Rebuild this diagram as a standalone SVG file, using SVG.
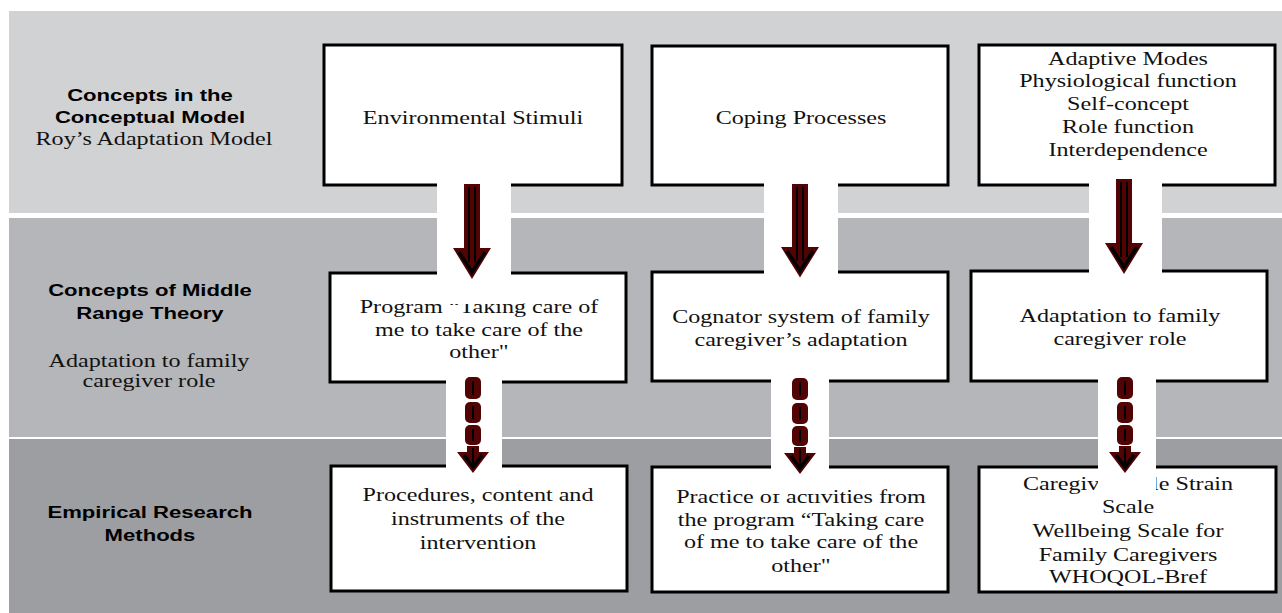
<svg xmlns="http://www.w3.org/2000/svg" width="1282" height="613" viewBox="0 0 1282 613">
<style>
.box{fill:#fff;stroke:#000;stroke-width:3}
.t{font-family:"Liberation Serif","Times New Roman",serif;font-size:18px;fill:#111;text-anchor:middle}
.h{font-family:"Liberation Sans",Arial,sans-serif;font-size:17px;font-weight:bold;fill:#000;text-anchor:middle}
.strip{fill:#fff}
.red{fill:#520404}
.blk{stroke:#000;fill:none;stroke-width:2}
.chev{stroke:#000;fill:none;stroke-width:3.5}
</style>
<defs>
<g id="solidArrow">
<path class="red" d="M-8,0 H8 V64 H19 L0,95 L-19,64 H-8 Z"/>
<line class="blk" x1="-3" y1="3" x2="-3" y2="78"/>
<line class="blk" x1="3" y1="3" x2="3" y2="78"/>
<polyline class="chev" points="-13,68 0,88 13,68"/>
</g>
<g id="dashArrow">
<rect class="red" x="-8" y="0" width="16" height="22" rx="5"/>
<rect class="red" x="-8" y="25" width="16" height="21" rx="5"/>
<rect class="red" x="-8" y="48" width="16" height="20" rx="5"/>
<line class="blk" x1="0" y1="4" x2="0" y2="18" stroke-width="3"/>
<line class="blk" x1="0" y1="29" x2="0" y2="42" stroke-width="3"/>
<line class="blk" x1="0" y1="52" x2="0" y2="64" stroke-width="3"/>
<path class="red" d="M-6,69 H6 V75 H16 L0,96 L-16,75 H-6 Z"/>
<line class="blk" x1="0" y1="71" x2="0" y2="88" stroke-width="2.5"/>
<polyline class="chev" points="-9,78 0,90 9,78" stroke-width="3"/>
</g>
</defs>

<g id="bands">
<rect x="9" y="11" width="1273" height="202" fill="#d1d2d4"/>
<rect x="9" y="218" width="1273" height="219" fill="#b4b6b9"/>
<rect x="9" y="439" width="1273" height="174" fill="#9c9ea2"/>
</g>

<g id="label-conceptual">
<text class="h" transform="translate(150,0) scale(1.3,1)"><tspan x="0" y="101">Concepts in the</tspan><tspan x="0" y="123">Conceptual Model</tspan></text>
<text class="t" transform="translate(154,0) scale(1.34,1)"><tspan x="0" y="145">Roy’s Adaptation Model</tspan></text>
</g>
<g id="label-middle">
<text class="h" transform="translate(150,0) scale(1.3,1)"><tspan x="0" y="296">Concepts of Middle</tspan><tspan x="0" y="319">Range Theory</tspan></text>
<text class="t" transform="translate(149,0) scale(1.34,1)"><tspan x="0" y="367">Adaptation to family</tspan><tspan x="0" y="387">caregiver role</tspan></text>
</g>
<g id="label-empirical">
<text class="h" transform="translate(150,0) scale(1.3,1)"><tspan x="0" y="518">Empirical Research</tspan><tspan x="0" y="541">Methods</tspan></text>
</g>

<g id="n-environmental">
<rect class="box" x="324" y="45" width="298" height="140"/>
<text class="t" transform="translate(473,0) scale(1.34,1)"><tspan x="0" y="124">Environmental Stimuli</tspan></text>
</g>
<g id="n-coping">
<rect class="box" x="652" y="46" width="296" height="139"/>
<text class="t" transform="translate(801,0) scale(1.34,1)"><tspan x="0" y="124">Coping Processes</tspan></text>
</g>
<g id="n-adaptive">
<rect class="box" x="979" y="45" width="296" height="140"/>
<text class="t" transform="translate(1128,0) scale(1.34,1)"><tspan x="0" y="65">Adaptive Modes</tspan><tspan x="0" y="87">Physiological function</tspan><tspan x="0" y="110">Self-concept</tspan><tspan x="0" y="133">Role function</tspan><tspan x="0" y="156">Interdependence</tspan></text>
</g>

<g id="n-program">
<rect class="box" x="330" y="273" width="296" height="109"/>
<text class="t" transform="translate(479,0) scale(1.34,1)"><tspan x="0" y="313">Program “Taking care of</tspan><tspan x="0" y="336">me to take care of the</tspan><tspan x="0" y="358">other"</tspan></text>
</g>
<g id="n-cognator">
<rect class="box" x="652" y="272" width="296" height="109"/>
<text class="t" transform="translate(801,0) scale(1.34,1)"><tspan x="0" y="323">Cognator system of family</tspan><tspan x="0" y="346">caregiver’s adaptation</tspan></text>
</g>
<g id="n-adaptation">
<rect class="box" x="971" y="271" width="296" height="110"/>
<text class="t" transform="translate(1120,0) scale(1.34,1)"><tspan x="0" y="322">Adaptation to family</tspan><tspan x="0" y="345">caregiver role</tspan></text>
</g>

<g id="n-procedures">
<rect class="box" x="331" y="466" width="296" height="125"/>
<text class="t" transform="translate(478,0) scale(1.34,1)"><tspan x="0" y="501">Procedures, content and</tspan><tspan x="0" y="525">instruments of the</tspan><tspan x="0" y="549">intervention</tspan></text>
</g>
<g id="n-practice">
<rect class="box" x="652" y="467" width="296" height="125"/>
<text class="t" transform="translate(801,0) scale(1.34,1)"><tspan x="0" y="503">Practice of activities from</tspan><tspan x="0" y="526">the program “Taking care</tspan><tspan x="0" y="548">of me to take care of the</tspan><tspan x="0" y="572">other"</tspan></text>
</g>
<g id="n-scales">
<rect class="box" x="979" y="467" width="297" height="125"/>
<text class="t" transform="translate(1128,0) scale(1.34,1)"><tspan x="0" y="490">Caregiver Role Strain</tspan><tspan x="0" y="513">Scale</tspan><tspan x="0" y="537">Wellbeing Scale for</tspan><tspan x="0" y="561">Family Caregivers</tspan><tspan x="0" y="583">WHOQOL-Bref</tspan></text>
</g>

<g id="connectors">
<rect class="strip" x="437" y="182" width="74" height="122"/>
<rect class="strip" x="764" y="182" width="74" height="104"/>
<rect class="strip" x="1089" y="180" width="73" height="106"/>
<rect class="strip" x="446" y="377" width="56" height="103"/>
<rect class="strip" x="771" y="377" width="58" height="117"/>
<rect class="strip" x="1098" y="377" width="58" height="118"/>
<use href="#solidArrow" transform="translate(472,184)"/>
<use href="#solidArrow" transform="translate(800,184) scale(1,0.985)"/>
<use href="#solidArrow" transform="translate(1124,179)"/>
<use href="#dashArrow" transform="translate(473,377)"/>
<use href="#dashArrow" transform="translate(800,378)"/>
<use href="#dashArrow" transform="translate(1125,377)"/>
</g>
</svg>
